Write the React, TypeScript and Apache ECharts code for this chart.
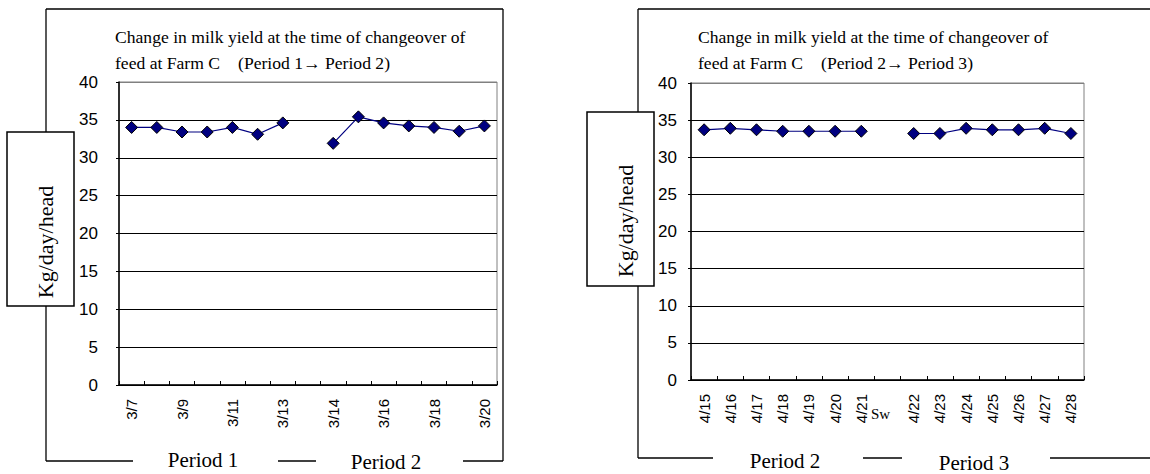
import React, { useEffect, useRef } from "react";
import * as echarts from "echarts";

// ---- data ----
const leftDates = ["3/7", "3/8", "3/9", "3/10", "3/11", "3/12", "3/13", "", "3/14", "3/15", "3/16", "3/17", "3/18", "3/19", "3/20"];
const leftPeriod1 = [34.0, 34.0, 33.4, 33.4, 34.0, 33.1, 34.6];
const leftPeriod2 = [31.9, 35.4, 34.6, 34.2, 34.0, 33.5, 34.2];

const rightDates = ["4/15", "4/16", "4/17", "4/18", "4/19", "4/20", "4/21", "Sw", "4/22", "4/23", "4/24", "4/25", "4/26", "4/27", "4/28"];
const rightPeriod2 = [33.7, 33.9, 33.7, 33.5, 33.5, 33.5, 33.5];
const rightPeriod3 = [33.2, 33.2, 33.9, 33.7, 33.7, 33.9, 33.2];

const yTicks = { min: 0, max: 40, interval: 5 };

const leftTitle = ["Change in milk yield at the time of changeover of", "feed at Farm C\u3000(Period 1\u2192 Period 2)"];
const rightTitle = ["Change in milk yield at the time of changeover of", "feed at Farm C\u3000(Period 2\u2192 Period 3)"];
const yName = "Kg/day/head";
const leftPeriods = ["Period 1", "Period 2"];
const rightPeriods = ["Period 2", "Period 3"];

const GAP = "-";
const leftSeries = [...leftPeriod1, GAP, ...leftPeriod2];
const rightSeries = [...rightPeriod2, GAP, ...rightPeriod3];

const SERIF = "'Liberation Serif', 'Times New Roman', serif";
const SANS = "'Liberation Sans', Arial, sans-serif";

function yAxisOpt(gridIndex: number, margin: number) {
  const gridColors = ["#000", "#000", "#000", "#000", "#000", "#000", "#000", "#000", "#808080"];
  return {
    type: "value",
    gridIndex,
    min: yTicks.min,
    max: yTicks.max,
    interval: yTicks.interval,
    axisLine: { show: true, lineStyle: { color: "#000", width: 1.5 } },
    axisTick: { show: true, length: 3, lineStyle: { color: "#000" } },
    axisLabel: { color: "#000", fontSize: 17, fontFamily: SANS, margin },
    splitLine: { show: true, lineStyle: { color: gridColors, width: 1 } },
  };
}

function xAxisOpt(gridIndex: number, data: string[], labelInterval: number, fontSize: number) {
  return {
    type: "category",
    gridIndex,
    data,
    boundaryGap: true,
    axisLine: { show: true, lineStyle: { color: "#000", width: 1.5 } },
    axisTick: { show: true, inside: true, length: 4, interval: 0, lineStyle: { color: "#000" } },
    axisLabel: {
      rotate: 90,
      interval: labelInterval,
      color: "#000",
      fontSize,
      fontFamily: SANS,
      margin: 14,
      formatter: (v: string) => (v === "Sw" ? "" : v),
    },
    splitLine: { show: false },
  };
}

function seriesOpt(idx: number, data: (number | string)[]) {
  return {
    type: "line",
    xAxisIndex: idx,
    yAxisIndex: idx,
    data,
    connectNulls: false,
    symbol: "diamond",
    symbolSize: 12,
    lineStyle: { color: "#000080", width: 1.2 },
    itemStyle: { color: "#000080", borderColor: "#000", borderWidth: 1 },
  };
}

function line(x1: number, y1: number, x2: number, y2: number, w = 1.3) {
  return { type: "line", shape: { x1, y1, x2, y2 }, style: { stroke: "#000", lineWidth: w }, z: 1 };
}

function text(t: string, x: number, y: number, size: number, family: string, opts: any = {}) {
  return {
    type: "text",
    x,
    y,
    rotation: opts.rotation || 0,
    z: opts.z || 5,
    style: {
      text: t,
      fontSize: size,
      fontFamily: family,
      fill: "#000",
      textAlign: opts.align || "left",
      textVerticalAlign: "middle",
      align: opts.align || "left",
      verticalAlign: "middle",
    },
  };
}

function box(x: number, y: number, w: number, h: number) {
  return { type: "rect", shape: { x, y, width: w, height: h }, style: { fill: "#fff", stroke: "#000", lineWidth: 1.5 }, z: 3 };
}

export default function App() {
  const ref = useRef<HTMLDivElement>(null);
  useEffect(() => {
    if (!ref.current) return;
    const chart = echarts.init(ref.current, null, { renderer: "svg" });
    chart.setOption({
      animation: false,
      backgroundColor: "#fff",
      grid: [
        { left: 119, top: 82, width: 378, height: 303, show: true, borderColor: "#808080", borderWidth: 1, backgroundColor: "transparent" },
        { left: 691, top: 83, width: 393, height: 297, show: true, borderColor: "#808080", borderWidth: 1, backgroundColor: "transparent" },
      ],
      xAxis: [xAxisOpt(0, leftDates, 1, 15), xAxisOpt(1, rightDates, 0, 15)],
      yAxis: [yAxisOpt(0, 21), yAxisOpt(1, 14)],
      series: [seriesOpt(0, leftSeries), seriesOpt(1, rightSeries)],
    });

    const swX = chart.convertToPixel({ xAxisIndex: 1 }, "Sw") as number;

    const graphic: any[] = [
      // left frame
      line(46, 9, 503, 9),
      line(46, 9, 46, 461),
      line(503, 9, 503, 461),
      line(46, 461, 133, 461),
      line(278, 461, 316, 461),
      line(463, 461, 503, 461),
      // right frame
      line(638, 9, 1150, 9),
      line(638, 9, 638, 458),
      line(638, 458, 713, 458),
      line(863, 458, 902, 458),
      line(1050, 458, 1150, 458),
      // titles
      text(leftTitle[0], 115, 37, 17.6, SERIF),
      text(leftTitle[1], 115, 63, 17.6, SERIF),
      text(rightTitle[0], 698, 37, 17.6, SERIF),
      text(rightTitle[1], 698, 63, 17.6, SERIF),
      // y-name boxes
      box(7, 132, 67, 174),
      text(yName, 45, 242, 22, SERIF, { rotation: Math.PI / 2, align: "center", z: 6 }),
      box(587, 112, 67, 174),
      text(yName, 625, 221, 22, SERIF, { rotation: Math.PI / 2, align: "center", z: 6 }),
      // period labels
      text(leftPeriods[0], 203, 460, 21, SERIF, { align: "center" }),
      text(leftPeriods[1], 386, 462, 21, SERIF, { align: "center" }),
      text(rightPeriods[0], 785, 461, 21, SERIF, { align: "center" }),
      text(rightPeriods[1], 974, 463, 21, SERIF, { align: "center" }),
      // switch label
      text("Sw", swX - 7, 414, 15, SERIF, { align: "center" }),
    ];
    chart.setOption({ graphic });

    return () => chart.dispose();
  }, []);

  return (
    <div
      ref={ref}
      style={{ position: "absolute", left: 0, top: 0, width: 1150, height: 474, background: "#fff" }}
    />
  );
}
